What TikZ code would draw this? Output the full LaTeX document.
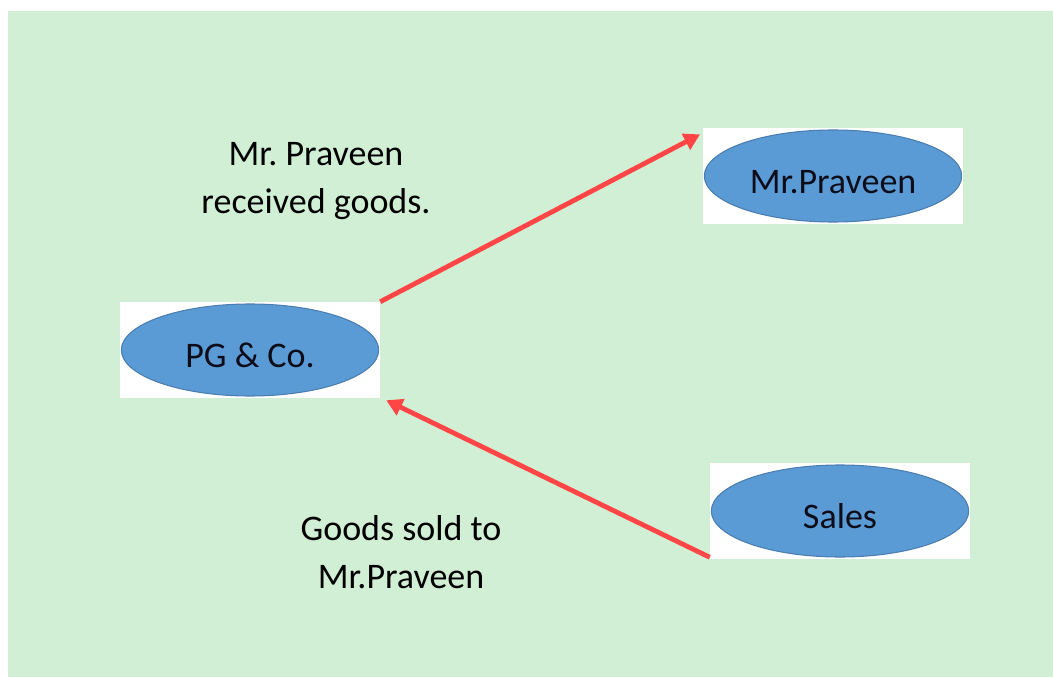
\documentclass[tikz,border=0pt]{standalone}
\usepackage{fontspec}
\setmainfont{Carlito}
\frenchspacing
\usetikzlibrary{arrows.meta,positioning}
\definecolor{bg}{HTML}{D1EFD4}
\definecolor{ell}{HTML}{5B9BD5}
\definecolor{elld}{HTML}{4A7DB0}
\definecolor{arr}{HTML}{FF4545}
\definecolor{txt}{HTML}{0D0D1A}
\tikzset{
  ebox/.style={rectangle,fill=white,minimum width=195pt,minimum height=72pt,inner sep=0pt,text=txt,
    font=\fontsize{27}{36}\selectfont,text height=30pt,text depth=4pt,
    path picture={\fill[ell,draw=elld,line width=0.8pt] (path picture bounding box.center) ellipse [x radius=96.5pt,y radius=34.5pt];}},
  lbl/.style={align=center,text=black,font=\fontsize{27}{36}\selectfont},
  ar/.style={-{Triangle[length=12pt,width=13pt]},line width=3.6pt,draw=arr},
}
\begin{document}
\begin{tikzpicture}[x=0.75pt,y=-0.75pt]
  \useasboundingbox[fill=white] (0,0) rectangle (1053,677);
  \fill[bg] (8,11) rectangle (1053,677);
  % accounts
  \node[ebox] (pg) at (250,350) {PG \& Co.};
  \node[ebox] (mp) at (833,176) {Mr.Praveen};
  \node[ebox] (sl) at (840,511) {Sales};
  % labels
  \node[lbl] (rcv) at (316,181) {Mr. Praveen\\received goods.};
  \node[lbl] (sold) at (401,552) {Goods sold to\\Mr.Praveen};
  % flows
  \draw[ar] (pg.north east) -- ([xshift=-2pt,yshift=-5pt]mp.north west);
  \draw[ar] ([yshift=1.5pt]sl.south west) -- ([xshift=4.5pt,yshift=-1.5pt]pg.south east);
\end{tikzpicture}
\end{document}
